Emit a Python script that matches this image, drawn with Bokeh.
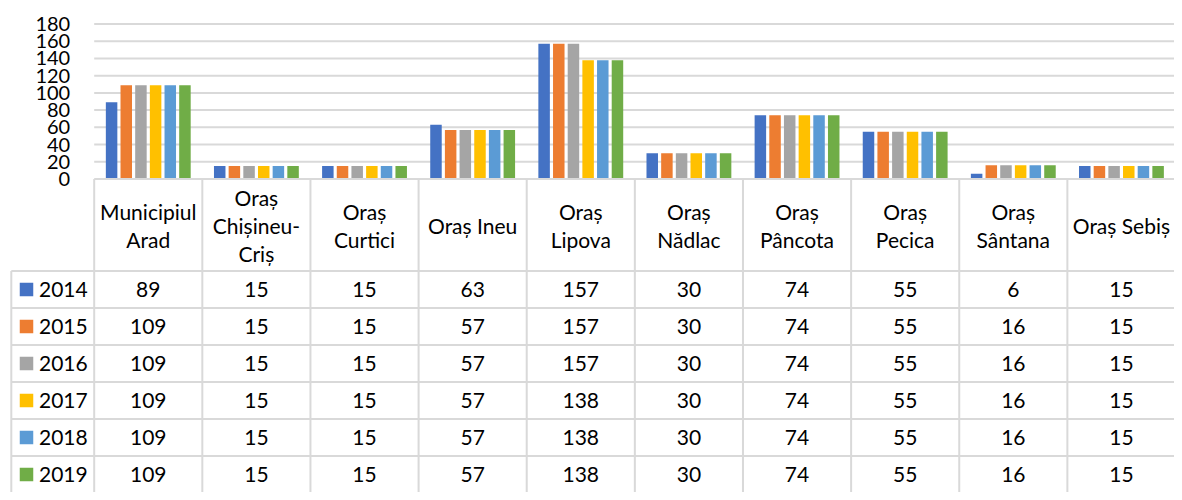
from bokeh.plotting import figure
from bokeh.models import LinearAxis, FixedTicker, Range1d
from bokeh.core.properties import value
from bokeh.embed import file_html
from bokeh.resources import INLINE

# ---- data ----
categories = ["Municipiul\nArad", "Oraș\nChișineu-\nCriș", "Oraș\nCurtici", "Oraș Ineu",
              "Oraș\nLipova", "Oraș\nNădlac", "Oraș\nPâncota", "Oraș\nPecica",
              "Oraș\nSântana", "Oraș Sebiș"]
years = ["2014", "2015", "2016", "2017", "2018", "2019"]
v2014 = [89, 15, 15, 63, 157, 30, 74, 55, 6, 15]
v2015 = [109, 15, 15, 57, 157, 30, 74, 55, 16, 15]
v2016 = [109, 15, 15, 57, 157, 30, 74, 55, 16, 15]
v2017 = [109, 15, 15, 57, 138, 30, 74, 55, 16, 15]
v2018 = [109, 15, 15, 57, 138, 30, 74, 55, 16, 15]
v2019 = [109, 15, 15, 57, 138, 30, 74, 55, 16, 15]
series = [v2014, v2015, v2016, v2017, v2018, v2019]
y_ticks = [0, 20, 40, 60, 80, 100, 120, 140, 160, 180]

colors = ["#4472C4", "#ED7D31", "#A5A5A5", "#FFC000", "#5B9BD5", "#70AD47"]
FONT = "Lato"
GRID = "#D9D9D9"
TXT = "#000000"

W, H = 1174, 492
x0_px = 93.7                      # canvas-x of category 0
cat_px = (W + 1 - x0_px) / 10.0   # width of one category column
zero_px = 178.5                   # canvas-y of value 0
px_per_unit = 155.0 / 180.0

x_start = -x0_px / cat_px
x_end = (W - x0_px) / cat_px
y_end = zero_px / px_per_unit
y_start = -(H - zero_px) / px_per_unit

p = figure(width=W, height=H, output_backend="svg", toolbar_location=None,
           x_range=Range1d(x_start, x_end), y_range=Range1d(y_start, y_end),
           x_axis_location=None, y_axis_location=None,
           min_border=0, outline_line_color=None, tools="")
p.grid.visible = False
p.extra_y_ranges = {"tbl": Range1d(H, 0)}

n = len(categories)
# gridlines
p.segment(x0=[0] * (len(y_ticks) - 1), x1=[x_end + 1] * (len(y_ticks) - 1),
          y0=y_ticks[1:], y1=y_ticks[1:], line_color=GRID, line_width=2)

# bars
pitch = 14.67 / cat_px
bw = 11.5 / cat_px
for k, (yr, vals) in enumerate(zip(years, series)):
    xs = [i + 0.5 + (k - 2.5) * pitch for i in range(n)]
    p.vbar(x=xs, top=vals, bottom=0, width=bw, fill_color=colors[k], line_color=None)

# y axis
ax = LinearAxis(fixed_location=0, ticker=FixedTicker(ticks=y_ticks))
ax.axis_line_color = None
ax.major_tick_line_color = None
ax.minor_tick_line_color = None
ax.major_label_standoff = 18
ax.major_label_text_font = FONT
ax.major_label_text_font_size = "20px"
ax.major_label_text_color = TXT
p.add_layout(ax, "left")

# ---- data table ----
top_t = zero_px
hdr_bot = 270.5
row_h = 37.0
bottom_t = H + 20
leg_left = (10.8 - x0_px) / cat_px

# horizontal lines
hl_y = [top_t] + [hdr_bot + row_h * r for r in range(len(years))]
hl_x0 = [0] + [leg_left] * len(years)
p.segment(x0=hl_x0, x1=[x_end + 1] * len(hl_y), y0=hl_y, y1=hl_y,
          line_color=GRID, line_width=2, y_range_name="tbl")
# vertical lines
vl_x = list(range(n + 1)) + [leg_left]
vl_y0 = [top_t] * (n + 1) + [hdr_bot]
p.segment(x0=vl_x, x1=vl_x, y0=vl_y0, y1=[bottom_t] * len(vl_x),
          line_color=GRID, line_width=2, y_range_name="tbl")

# header texts
p.text(x=[i + 0.5 for i in range(n)], y=[(top_t + hdr_bot) / 2] * n, text=categories,
       text_font=value(FONT), text_font_size="21px", text_color=TXT,
       text_align="center", text_baseline="middle", text_line_height=1.12,
       y_range_name="tbl")

# values
for r, vals in enumerate(series):
    cy = hdr_bot + row_h * (r + 0.5)
    p.text(x=[i + 0.5 for i in range(n)], y=[cy] * n, text=[str(v) for v in vals],
           text_font=value(FONT), text_font_size="21px", text_color=TXT,
           text_align="center", text_baseline="middle", y_range_name="tbl")

# legend keys
key_x = (26.0 - x0_px) / cat_px
txt_x = (38.5 - x0_px) / cat_px
row_cy = [hdr_bot + row_h * (r + 0.5) for r in range(len(years))]
p.scatter(x=[key_x] * len(years), y=row_cy, marker="square", size=13.5,
          fill_color=colors, line_color=None, y_range_name="tbl")
p.text(x=[txt_x] * len(years), y=row_cy, text=years,
       text_font=value(FONT), text_font_size="21px", text_color=TXT,
       text_align="left", text_baseline="middle", y_range_name="tbl")

open("out.html", "w").write(file_html(p, INLINE))
